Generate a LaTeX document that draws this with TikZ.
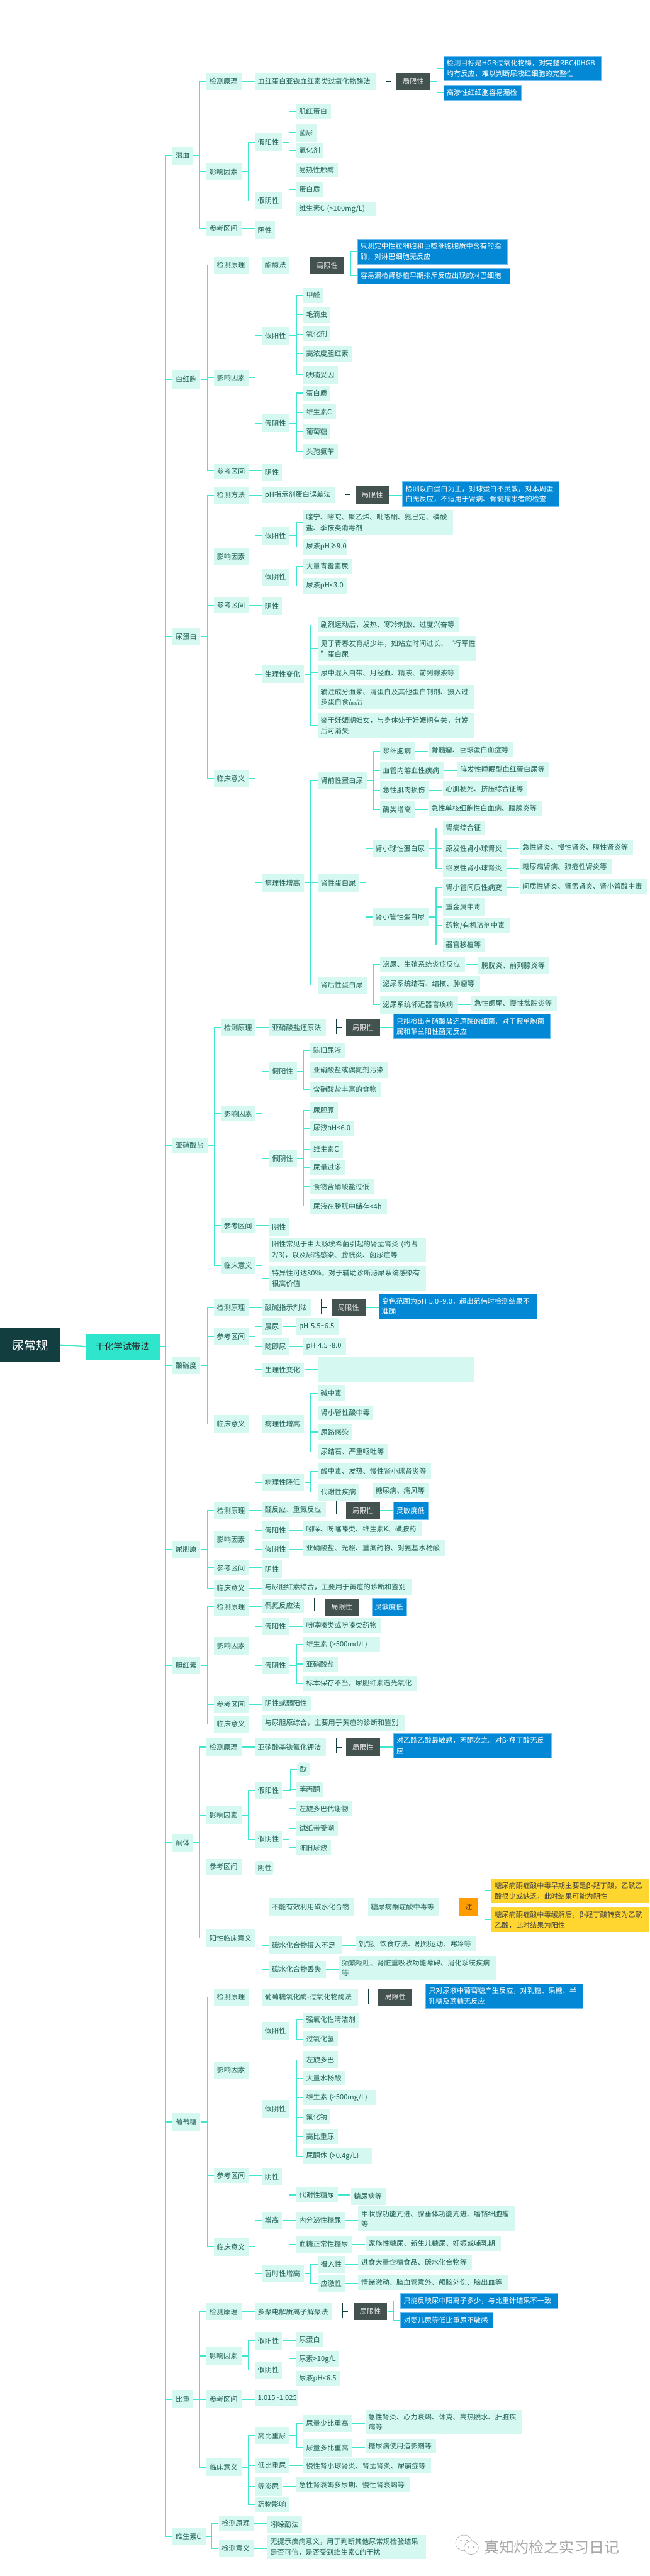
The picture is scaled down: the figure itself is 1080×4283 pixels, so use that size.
\documentclass[tikz,border=0pt]{standalone}
\usepackage{fontspec}
\setmainfont{Noto Sans CJK SC}
\definecolor{boxfill}{HTML}{D5F8F1}
\definecolor{linkcol}{HTML}{40E6CF}
\definecolor{boxtext}{HTML}{1F5F55}
\definecolor{bluefill}{HTML}{0288D4}
\definecolor{blueline}{HTML}{6FC0F0}
\definecolor{darkfill}{HTML}{44524F}
\definecolor{rootfill}{HTML}{123E40}
\definecolor{mainfill}{HTML}{2FE5CC}
\definecolor{orangefill}{HTML}{FF9D00}
\definecolor{yellowfill}{HTML}{FFD530}
\definecolor{markcol}{HTML}{A9A9A9}
\def\offx{240}\def\offy{0}\def\xf{0.53571}
\tikzset{
 basebox/.style={inner xsep=5pt,inner ysep=0pt,align=left,font=\fontsize{11.7}{17.3}\selectfont},
 nbox/.style={basebox,fill=boxfill,text=boxtext},
 bluebox/.style={basebox,fill=bluefill,draw=blueline,line width=.5pt,text=white},
 darkbox/.style={basebox,fill=darkfill,text=white!90!black,align=center},
 orangebox/.style={basebox,fill=orangefill,text=black!80,align=center},
 yellowbox/.style={basebox,fill=yellowfill,text=black!75},
 roundbox/.style={nbox,rounded corners=5pt},
 link/.style={draw=linkcol,line width=1.3pt},
 brk/.style={draw=rootfill,line width=1.1pt},
}
\newcommand\nd[7][nbox]{%
 \pgfmathsetmacro\nxa{\offx+#3*\xf}\pgfmathsetmacro\nya{\offy+#4/3}%
 \pgfmathsetmacro\nxb{\offx+#5*\xf}\pgfmathsetmacro\nyb{\offy+#6/3}%
 \pgfmathsetmacro\nw{\nxb-\nxa}\pgfmathsetmacro\nh{\nyb-\nya}\pgfmathsetmacro\nt{\nw-10}%
 \node[#1,anchor=north west,minimum width=\nw pt,minimum height=\nh pt,text width=\nt pt] (#2) at (\nxa pt,-\nya pt) {#7};}
\newcommand\Ed[2]{\foreach \kid in {#2}{\draw[link] (#1.east) -| ([xshift=-11pt]\kid.west) -- (\kid.west);}}
\newcommand\Sl[2]{\draw[link] (#1.east) -- (#1.east -| #2.west);}
\newcommand\Br[2]{\draw[brk] ([xshift=17pt]#1.north east) -- ([xshift=17pt,yshift=4pt]#1.south east);
 \draw[brk] ([xshift=17pt]#1.east) -- ([xshift=26pt]#1.east);}
\begin{document}
\begin{tikzpicture}[x=1pt,y=1pt]
\useasboundingbox (0,0) rectangle (1080,-4283);
\fill[white] (0,0) rectangle (1080,-4283);
% ---- root and main
\def\offx{0}\def\offy{2100}
\nd[basebox,fill=rootfill,text=white,align=center,font=\fontsize{20}{24}\selectfont]{root}{0}{323}{187}{494}{尿常规}
\nd[basebox,fill=mainfill,text=black!85,align=center,font=\fontsize{15}{18}\selectfont]{main}{265}{352}{495}{480}{干化学试带法}
% ---- 潜血
\def\offx{240}\def\offy{0}
\nd{qx}{87}{733}{150}{820}{潜血}
\nd{qxa}{192}{363}{301}{449}{检测原理}
\nd{qxaa}{342}{363}{717}{449}{血红蛋白亚铁血红素类过氧化物酶法}
\nd[darkbox]{qxab}{781}{363}{887}{449}{局限性}
\nd[bluebox]{qxac}{928}{280}{1416}{402}{检测目标是HGB过氧化物酶，对完整RBC和HGB\\均有反应，难以判断尿液红细胞的完整性}
\nd[bluebox]{qxad}{928}{423}{1169}{499}{高渗性红细胞容易漏检}
\nd{qxb}{192}{813}{301}{898}{影响因素}
\nd{qxba}{342}{665}{427}{753}{假阳性}
\nd{qxbaa}{470}{519}{578}{594}{肌红蛋白}
\nd{qxbab}{470}{618}{533}{704}{菌尿}
\nd{qxbac}{470}{712}{554}{789}{氧化剂}
\nd{qxbad}{470}{811}{600}{885}{易热性触酶}
\nd{qxbb}{342}{958}{427}{1044}{假阴性}
\nd{qxbba}{470}{907}{554}{983}{蛋白质}
\nd{qxbbb}{470}{1005}{717}{1080}{维生素C (>100mg/L)}
\nd{qxc}{192}{1101}{301}{1178}{参考区间}
\nd{qxca}{342}{1104}{405}{1190}{阴性}
% ---- 白细胞
\def\offy{390}
\nd{wb}{87}{678}{173}{767}{白细胞}
\nd{wba}{215}{108}{323}{196}{检测原理}
\nd{wbaa}{364}{108}{450}{196}{酯酶法}
\nd[darkbox]{wbab}{514}{108}{619}{197}{局限性}
\nd[bluebox]{wbac}{660}{22}{1126}{146}{只测定中性粒细胞和巨噬细胞胞质中含有的脂\\酶，对淋巴细胞无反应}
\nd[bluebox]{wbad}{660}{166}{1134}{244}{容易漏检肾移植早期排斥反应出现的淋巴细胞}
\nd{wbb}{215}{676}{323}{752}{影响因素}
\nd{wbba}{364}{460}{450}{548}{假阳性}
\nd{wbbaa}{492}{265}{554}{339}{甲醛}
\nd{wbbab}{492}{361}{577}{438}{毛滴虫}
\nd{wbbac}{492}{459}{577}{534}{氧化剂}
\nd{wbbad}{492}{556}{643}{633}{高浓度胆红素}
\nd{wbbae}{492}{655}{600}{743}{呋喃妥因}
\nd{wbbb}{364}{898}{450}{984}{假阴性}
\nd{wbbba}{492}{753}{577}{827}{蛋白质}
\nd{wbbbb}{492}{847}{594}{923}{维生素C}
\nd{wbbbc}{492}{945}{577}{1020}{葡萄糖}
\nd{wbbbd}{492}{1044}{600}{1118}{头孢氨苄}
\nd{wbc}{215}{1140}{323}{1217}{参考区间}
\nd{wbca}{364}{1142}{427}{1228}{阴性}
% ---- 尿蛋白
\def\offy{780}
\nd{db}{87}{793}{173}{879}{尿蛋白}
\nd{dba}{215}{86}{323}{174}{检测方法}
\nd{dbaa}{364}{86}{590}{170}{pH指示剂蛋白误差法}
\nd[darkbox]{dbab}{654}{85}{759}{175}{局限性}
\nd[bluebox]{dbac}{800}{61}{1286}{185}{检测以白蛋白为主，对球蛋白不灵敏，对本周蛋\\白无反应，不适用于肾病、骨髓瘤患者的检查}
\nd{dbb}{215}{393}{323}{479}{影响因素}
\nd{dbba}{364}{289}{450}{375}{假阳性}
\nd{dbbaa}{492}{205}{957}{326}{喹宁、嘧啶、聚乙烯、吡咯酮、氨己定、磷酸\\盐、季铵类消毒剂}
\nd{dbbab}{492}{348}{628}{425}{尿液pH≥9.0}
\nd{dbbb}{364}{495}{450}{581}{假阴性}
\nd{dbbba}{492}{447}{643}{521}{大量青霉素尿}
\nd{dbbbb}{492}{543}{630}{620}{尿液pH<3.0}
\nd{dbc}{215}{640}{323}{716}{参考区间}
\nd{dbca}{364}{640}{427}{727}{阴性}
\nd{dbda}{364}{979}{495}{1065}{生理性变化}
\nd{dbdaa}{537}{738}{977}{812}{剧烈运动后，发热、寒冷刺激、过度兴奋等}
\nd{dbdab}{537}{835}{1030}{956}{见于青春发育期少年，如站立时间过长、“行军性\\”蛋白尿}
\nd{dbdac}{537}{977}{977}{1054}{尿中混入白带、月经血、精液、前列腺液等}
\nd{dbdad}{537}{1075}{1023}{1197}{输注成分血浆、清蛋白及其他蛋白制剂、摄入过\\多蛋白食品后}
\def\offy{1170}
\nd{dbd}{215}{328}{323}{416}{临床意义}
\nd{dbdae}{537}{48}{1023}{170}{鉴于妊娠期妇女，与身体处于妊娠期有关，分娩\\后可消失}
\nd{dbdb}{364}{850}{495}{936}{病理性增高}
\nd{pa}{537}{340}{690}{425}{肾前性蛋白尿}
\nd{paa}{730}{192}{838}{280}{浆细胞病}
\nd{paax}{880}{192}{1143}{267}{骨髓瘤、巨球蛋白血症等}
\nd{pab}{730}{290}{928}{376}{血管内溶血性疾病}
\nd{pabx}{970}{290}{1256}{365}{阵发性睡眠型血红蛋白尿等}
\nd{pac}{730}{387}{883}{474}{急性肌肉损伤}
\nd{pacx}{925}{387}{1188}{461}{心肌梗死、挤压综合征等}
\nd{pad}{730}{485}{838}{571}{酶类增高}
\nd{padx}{880}{483}{1232}{560}{急性单核细胞性白血病、胰腺炎等}
\nd{pb}{537}{850}{667}{936}{肾性蛋白尿}
\nd{pba}{707}{679}{883}{765}{肾小球性蛋白尿}
\nd{pbaa}{925}{582}{1056}{656}{肾病综合征}
\nd{pbab}{925}{679}{1122}{765}{原发性肾小球肾炎}
\nd{pbabx}{1163}{678}{1516}{754}{急性肾炎、慢性肾炎、膜性肾炎等}
\nd{pbac}{925}{776}{1122}{863}{继发性肾小球肾炎}
\nd{pbacx}{1163}{775}{1449}{851}{糖尿病肾病、狼疮性肾炎等}
\nd{pbb}{707}{1020}{883}{1106}{肾小管性蛋白尿}
\nd{pbba}{925}{874}{1122}{960}{肾小管间质性病变}
\nd{pbbax}{1163}{872}{1561}{948}{间质性肾炎、肾盂肾炎、肾小管酸中毒}
\nd{pbbb}{925}{970}{1056}{1056}{重金属中毒}
\nd{pbbc}{925}{1067}{1133}{1143}{药物/有机溶剂中毒}
\nd{pbbd}{925}{1165}{1056}{1240}{器官移植等}
\nd{pc}{537}{1360}{690}{1445}{肾后性蛋白尿}
\nd{pca}{730}{1261}{995}{1337}{泌尿、生殖系统炎症反应}
\nd{pcax}{1036}{1261}{1256}{1350}{膀胱炎、前列腺炎等}
\nd{pcb}{730}{1357}{1040}{1435}{泌尿系统结石、结核、肿瘤等}
\def\offy{1660}
\nd{pcc}{730}{-15}{973}{75}{泌尿系统邻近器官疾病}
\nd{pccx}{1014}{-15}{1279}{62}{急性阑尾、慢性盆腔炎等}
% ---- 亚硝酸盐
\nd{ni}{87}{693}{195}{771}{亚硝酸盐}
\nd{nia}{237}{102}{345}{188}{检测原理}
\nd{niaa}{386}{102}{562}{188}{亚硝酸盐还原法}
\nd[darkbox]{niab}{625}{102}{730}{188}{局限性}
\nd[bluebox]{niac}{772}{78}{1258}{200}{只能检出有硝酸盐还原酶的细菌，对于假单胞菌\\属和革兰阳性菌无反应}
\nd{nib}{237}{537}{345}{612}{影响因素}
\nd{niba}{386}{319}{472}{406}{假阳性}
\nd{nibaa}{514}{220}{622}{296}{陈旧尿液}
\nd{nibab}{514}{318}{754}{395}{亚硝酸盐或偶氮剂污染}
\nd{nibac}{514}{415}{734}{491}{含硝酸盐丰富的食物}
\nd{nibb}{386}{756}{472}{842}{假阴性}
\nd{nibba}{514}{514}{600}{600}{尿胆原}
\nd{nibbb}{514}{610}{651}{686}{尿液pH<6.0}
\nd{nibbc}{514}{709}{615}{795}{维生素C}
\nd{nibbd}{514}{803}{622}{880}{尿量过多}
\nd{nibbe}{514}{901}{711}{977}{食物含硝酸盐过低}
\nd{nibbf}{514}{997}{752}{1074}{尿液在膀胱中储存<4h}
\nd{nic}{237}{1095}{345}{1171}{参考区间}
\nd{nica}{386}{1096}{450}{1185}{阴性}
\nd{nid}{237}{1288}{345}{1376}{临床意义}
\nd{nida}{386}{1192}{873}{1314}{阳性常见于由大肠埃希菌引起的肾盂肾炎 (约占\\2/3)，以及尿路感染、膀胱炎、菌尿症等}
% ---- 酸碱度
\def\offx{0}\def\offy{2100}
\nd{nidb}{834}{15}{1322}{138}{特异性可达80\%，对于辅助诊断泌尿系统感染有\\很高价值}
\nd{ph}{535}{468}{621}{555}{酸碱度}
\nd{pha}{663}{178}{771}{264}{检测原理}
\nd{phaa}{812}{178}{964}{264}{酸碱指示剂法}
\nd[darkbox]{phab}{1029}{178}{1133}{266}{局限性}
\nd[bluebox]{phac}{1175}{153}{1664}{277}{变色范围为pH 5.0\textasciitilde 9.0，超出范伟时检测结果不\\准确}
\nd{phb}{663}{324}{771}{410}{参考区间}
\nd{phba}{812}{275}{875}{360}{晨尿}
\nd{phbax}{918}{275}{1052}{360}{pH 5.5\textasciitilde 6.5}
\nd{phbb}{812}{372}{897}{459}{随即尿}
\nd{phbbx}{940}{371}{1073}{456}{pH 4.5\textasciitilde 8.0}
\nd{phc}{663}{759}{771}{847}{临床意义}
\nd{phca}{812}{496}{943}{567}{生理性变化}
\nd{phcax}{985}{469}{1471}{591}{}
\nd{phcb}{812}{759}{943}{845}{病理性增高}
\nd{phcba}{985}{610}{1069}{687}{碱中毒}
\nd{phcbb}{985}{709}{1158}{784}{肾小管性酸中毒}
\nd{phcbc}{985}{805}{1091}{880}{尿路感染}
\nd{phcbd}{985}{902}{1202}{978}{尿结石、严重呕吐等}
\nd{phcc}{812}{1049}{943}{1137}{病理性降低}
\nd{phcca}{985}{1000}{1337}{1075}{酸中毒、发热、慢性肾小球肾炎等}
\nd{phccb}{985}{1098}{1114}{1184}{代谢性疾病}
\nd{phccbx}{1155}{1096}{1331}{1172}{糖尿病、痛风等}
% ---- 尿胆原, 胆红素
\def\offx{240}\def\offy{2490}
\nd{ub}{87}{215}{173}{301}{尿胆原}
\nd{uba}{215}{21}{323}{107}{检测原理}
\nd{ubaa}{364}{19}{562}{96}{醛反应、重氮反应}
\nd[darkbox]{ubab}{625}{20}{730}{109}{局限性}
\nd[bluebox]{ubac}{772}{20}{880}{109}{灵敏度低}
\nd{ubb}{215}{166}{323}{254}{影响因素}
\nd{ubba}{364}{119}{450}{205}{假阳性}
\nd{ubbax}{492}{119}{860}{192}{吲哚、吩噻嗪类、维生素K、磺胺药}
\nd{ubbb}{364}{215}{450}{301}{假阴性}
\nd{ubbbx}{492}{213}{934}{290}{亚硝酸盐、光照、重氮药物、对氨基水杨酸}
\nd{ubc}{215}{311}{323}{387}{参考区间}
\nd{ubca}{364}{313}{427}{399}{阴性}
\nd{ubd}{215}{409}{323}{495}{临床意义}
\nd{ubda}{364}{407}{829}{485}{与尿胆红素综合，主要用于黄疸的诊断和鉴别}
\nd{bi}{87}{795}{173}{881}{胆红素}
\nd{bia}{215}{502}{323}{587}{检测原理}
\nd{biaa}{364}{502}{495}{577}{偶氮反应法}
\nd[darkbox]{biab}{559}{502}{665}{588}{局限性}
\nd[bluebox]{biac}{705}{502}{813}{588}{灵敏度低}
\nd{bib}{215}{696}{323}{783}{影响因素}
\nd{biba}{364}{600}{450}{686}{假阳性}
\nd{bibax}{492}{598}{734}{672}{吩噻嗪类或吩嗪类药物}
\nd{bibb}{364}{795}{450}{881}{假阴性}
\nd{bibba}{492}{694}{730}{771}{维生素 (>500md/L)}
\nd{bibbb}{492}{792}{600}{867}{亚硝酸盐}
\nd{bibbc}{492}{888}{844}{965}{标本保存不当，尿胆红素遇光氧化}
\nd{bic}{215}{988}{323}{1074}{参考区间}
\nd{bica}{364}{988}{517}{1062}{阴性或弱阳性}
\nd{bid}{215}{1086}{323}{1172}{临床意义}
\nd{bida}{364}{1083}{806}{1161}{与尿胆原综合，主要用于黄疸的诊断和鉴别}
% ---- 酮体
\def\offy{2880}
\nd{ke}{87}{507}{150}{594}{酮体}
\nd{kea}{192}{30}{301}{118}{检测原理}
\nd{keaa}{342}{30}{562}{118}{亚硝酸基铁氰化钾法}
\nd[darkbox]{keab}{625}{29}{730}{119}{局限性}
\nd[bluebox]{keac}{772}{4}{1262}{128}{对乙酰乙酸最敏感，丙酮次之。对β-羟丁酸无反\\应}
\nd{keb}{192}{370}{301}{456}{影响因素}
\nd{keba}{342}{247}{427}{335}{假阳性}
\nd[roundbox]{kebaa}{473}{150}{513}{218}{酞}
\nd{kebab}{470}{247}{554}{322}{苯丙酮}
\nd{kebac}{470}{343}{643}{418}{左旋多巴代谢物}
\nd{kebb}{342}{490}{427}{576}{假阴性}
\nd{kebba}{470}{442}{600}{516}{试纸带受潮}
\nd{kebbb}{470}{538}{578}{612}{陈旧尿液}
\nd{kec}{192}{633}{301}{709}{参考区间}
\nd[roundbox]{keca}{342}{641}{400}{711}{阴性}
\nd{ked}{192}{983}{345}{1071}{阳性临床意义}
\nd{keda}{386}{828}{650}{914}{不能有效利用碳水化合物}
\nd{kedax}{693}{828}{912}{914}{糖尿病酮症酸中毒等}
\nd[orangebox]{kedan}{975}{828}{1036}{914}{注}
\nd[yellowbox]{kedaa}{1077}{732}{1566}{851}{糖尿病酮症酸中毒早期主要是β-羟丁酸，乙酰乙\\酸很少或缺乏，此时结果可能为阴性}
\nd[yellowbox]{kedab}{1077}{875}{1566}{997}{糖尿病酮症酸中毒缓解后，β-羟丁酸转变为乙酰\\乙酸，此时结果为阳性}
\nd{kedb}{386}{1019}{614}{1106}{碳水化合物摄入不足}
\nd{kedbx}{655}{1019}{1030}{1094}{饥饿、饮食疗法、剧烈运动、寒冷等}
\nd{kedc}{386}{1139}{562}{1226}{碳水化合物丢失}
\nd{kedcx}{603}{1115}{1090}{1236}{频繁呕吐、肾脏重吸收功能障碍、消化系统疾病\\等}
% ---- 葡萄糖
\def\offy{3270}
\nd{gl}{87}{730}{173}{816}{葡萄糖}
\nd{gla}{215}{108}{323}{194}{检测原理}
\nd{glaa}{364}{108}{662}{194}{葡萄糖氧化酶-过氧化物酶法}
\nd[darkbox]{glab}{725}{108}{831}{194}{局限性}
\nd[bluebox]{glac}{872}{83}{1359}{206}{只对尿液中葡萄糖产生反应，对乳糖、果糖、半\\乳糖及蔗糖无反应}
\nd{glb}{215}{471}{323}{557}{影响因素}
\nd{glba}{364}{276}{450}{362}{假阳性}
\nd{glbaa}{492}{226}{666}{302}{强氧化性清洁剂}
\nd{glbab}{492}{323}{600}{398}{过氧化氢}
\nd{glbb}{364}{665}{450}{751}{假阴性}
\nd{glbba}{492}{422}{600}{507}{左旋多巴}
\nd{glbbb}{492}{518}{622}{593}{大量水杨酸}
\nd{glbbc}{492}{614}{716}{689}{维生素 (>500mg/L)}
\nd{glbbd}{492}{712}{577}{787}{氟化钠}
\nd{glbbe}{492}{808}{600}{884}{高比重尿}
\nd{glbbf}{492}{905}{705}{982}{尿酮体 (>0.4g/L)}
\nd{glc}{215}{1003}{323}{1079}{参考区间}
\nd{glca}{364}{1006}{427}{1091}{阴性}
\nd{glda}{470}{1099}{600}{1176}{代谢性糖尿}
\nd{gldax}{640}{1102}{749}{1187}{糖尿病等}
\def\offy{3660}
\nd{gld}{215}{184}{323}{270}{临床意义}
\nd{gle}{364}{51}{427}{138}{增高}
\nd{gldb}{470}{51}{622}{138}{内分泌性糖尿}
\nd{gldbx}{663}{25}{1150}{148}{甲状腺功能亢进、腺垂体功能亢进、嗜铬细胞瘤\\等}
\nd{gldc}{470}{171}{644}{257}{血糖正常性糖尿}
\nd{gldcx}{685}{171}{1105}{245}{家族性糖尿、新生儿糖尿、妊娠或哺乳期}
\nd{glf}{364}{317}{495}{404}{暂时性增高}
\nd{glfa}{537}{270}{622}{356}{摄入性}
\nd{glfax}{663}{268}{1016}{342}{进食大量含糖食品、碳水化合物等}
\nd{glfb}{537}{366}{622}{452}{应激性}
\nd{glfbx}{663}{366}{1127}{441}{情绪激动、脑血管意外、颅脑外伤、脑出血等}
% ---- 比重
\nd{sga}{192}{507}{301}{593}{检测原理}
\nd{sgaa}{342}{507}{583}{593}{多聚电解质离子解聚法}
\nd[darkbox]{sgab}{648}{506}{753}{593}{局限性}
\nd[bluebox]{sgac}{794}{458}{1281}{532}{只能反映尿中阳离子多少，与比重计结果不一致}
\nd[bluebox]{sgad}{794}{554}{1081}{631}{对婴儿尿等低比重尿不敏感}
\nd{sgb}{192}{727}{301}{813}{影响因素}
\nd{sgba}{342}{652}{427}{738}{假阳性}
\nd{sgbax}{470}{650}{554}{727}{尿蛋白}
\nd{sgbb}{342}{798}{427}{885}{假阴性}
\nd{sgbba}{470}{748}{603}{823}{尿素>10g/L}
\nd{sgbbb}{470}{847}{607}{921}{尿液pH<6.5}
\def\offy{3970}
\nd{sg}{87}{13}{150}{101}{比重}
\nd{sgc}{192}{13}{301}{101}{参考区间}
\nd{sgca}{342}{13}{476}{88}{1.015\textasciitilde 1.025}
\nd{sgd}{192}{352}{301}{440}{临床意义}
\nd{sgda}{342}{195}{450}{281}{高比重尿}
\nd{sgdaa}{492}{134}{644}{220}{尿量少比重高}
\nd{sgdaax}{685}{109}{1172}{231}{急性肾炎、心力衰竭、休克、高热脱水、肝脏疾\\病等}
\nd{sgdab}{492}{255}{644}{341}{尿量多比重高}
\nd{sgdabx}{685}{253}{905}{327}{糖尿病使用造影剂等}
\nd{sgdb}{342}{351}{450}{426}{低比重尿}
\nd{sgdbx}{492}{351}{889}{426}{慢性肾小球肾炎、肾盂肾炎、尿崩症等}
\nd{sgdc}{342}{447}{427}{536}{等渗尿}
\nd{sgdcx}{470}{447}{823}{522}{急性肾衰竭多尿期、慢性肾衰竭等}
\nd{sgdd}{342}{544}{450}{620}{药物影响}
% ---- 维生素C
\nd{vc}{87}{697}{189}{786}{维生素C}
\nd{vca}{230}{637}{338}{713}{检测原理}
\nd{vcax}{381}{637}{489}{725}{吲哚酚法}
\nd{vcb}{230}{758}{338}{845}{检测意义}
\nd{vcbx}{381}{733}{874}{855}{无提示疾病意义，用于判断其他尿常规检验结果\\是否可信，是否受到维生素C的干扰}
% ---- connectors
\draw[link,line width=2.4pt] (root.east) -- (main.west);
\Ed{main}{qx,wb,db,ni,ph,ub,bi,ke,gl,sg,vc}
\Ed{qx}{qxa,qxb,qxc}\Sl{qxa}{qxaa}\Br{qxaa}{qxab}\Ed{qxab}{qxac,qxad}
\Ed{qxb}{qxba,qxbb}\Ed{qxba}{qxbaa,qxbab,qxbac,qxbad}\Ed{qxbb}{qxbba,qxbbb}\Sl{qxc}{qxca}
\Ed{wb}{wba,wbb,wbc}\Sl{wba}{wbaa}\Br{wbaa}{wbab}\Ed{wbab}{wbac,wbad}
\Ed{wbb}{wbba,wbbb}\Ed{wbba}{wbbaa,wbbab,wbbac,wbbad,wbbae}\Ed{wbbb}{wbbba,wbbbb,wbbbc,wbbbd}\Sl{wbc}{wbca}
\Ed{db}{dba,dbb,dbc,dbd}\Sl{dba}{dbaa}\Br{dbaa}{dbab}\Sl{dbab}{dbac}
\Ed{dbb}{dbba,dbbb}\Ed{dbba}{dbbaa,dbbab}\Ed{dbbb}{dbbba,dbbbb}\Sl{dbc}{dbca}
\Ed{dbd}{dbda,dbdb}\Ed{dbda}{dbdaa,dbdab,dbdac,dbdad,dbdae}\Ed{dbdb}{pa,pb,pc}
\Ed{pa}{paa,pab,pac,pad}\Sl{paa}{paax}\Sl{pab}{pabx}\Sl{pac}{pacx}\Sl{pad}{padx}
\Ed{pb}{pba,pbb}\Ed{pba}{pbaa,pbab,pbac}\Sl{pbab}{pbabx}\Sl{pbac}{pbacx}
\Ed{pbb}{pbba,pbbb,pbbc,pbbd}\Sl{pbba}{pbbax}
\Ed{pc}{pca,pcb,pcc}\Sl{pca}{pcax}\Sl{pcc}{pccx}
\Ed{ni}{nia,nib,nic,nid}\Sl{nia}{niaa}\Br{niaa}{niab}\Sl{niab}{niac}
\Ed{nib}{niba,nibb}\Ed{niba}{nibaa,nibab,nibac}\Ed{nibb}{nibba,nibbb,nibbc,nibbd,nibbe,nibbf}\Sl{nic}{nica}\Ed{nid}{nida,nidb}
\Ed{ph}{pha,phb,phc}\Sl{pha}{phaa}\Br{phaa}{phab}\Sl{phab}{phac}
\Ed{phb}{phba,phbb}\Sl{phba}{phbax}\Sl{phbb}{phbbx}
\Ed{phc}{phca,phcb,phcc}\Sl{phca}{phcax}\Ed{phcb}{phcba,phcbb,phcbc,phcbd}\Ed{phcc}{phcca,phccb}\Sl{phccb}{phccbx}
\Ed{ub}{uba,ubb,ubc,ubd}\Sl{uba}{ubaa}\Br{ubaa}{ubab}\Sl{ubab}{ubac}
\Ed{ubb}{ubba,ubbb}\Sl{ubba}{ubbax}\Sl{ubbb}{ubbbx}\Sl{ubc}{ubca}\Sl{ubd}{ubda}
\Ed{bi}{bia,bib,bic,bid}\Sl{bia}{biaa}\Br{biaa}{biab}\Sl{biab}{biac}
\Ed{bib}{biba,bibb}\Sl{biba}{bibax}\Ed{bibb}{bibba,bibbb,bibbc}\Sl{bic}{bica}\Sl{bid}{bida}
\Ed{ke}{kea,keb,kec,ked}\Sl{kea}{keaa}\Br{keaa}{keab}\Sl{keab}{keac}
\Ed{keb}{keba,kebb}\Ed{keba}{kebaa,kebab,kebac}\Ed{kebb}{kebba,kebbb}\Sl{kec}{keca}
\Ed{ked}{keda,kedb,kedc}\Sl{keda}{kedax}\Br{kedax}{kedan}\Ed{kedan}{kedaa,kedab}\Sl{kedb}{kedbx}\Sl{kedc}{kedcx}
\Ed{gl}{gla,glb,glc,gld}\Sl{gla}{glaa}\Br{glaa}{glab}\Sl{glab}{glac}
\Ed{glb}{glba,glbb}\Ed{glba}{glbaa,glbab}\Ed{glbb}{glbba,glbbb,glbbc,glbbd,glbbe,glbbf}\Sl{glc}{glca}
\Ed{gld}{gle,glf}\Ed{gle}{glda,gldb,gldc}\Sl{glda}{gldax}\Sl{gldb}{gldbx}\Sl{gldc}{gldcx}
\Ed{glf}{glfa,glfb}\Sl{glfa}{glfax}\Sl{glfb}{glfbx}
\Ed{sg}{sga,sgb,sgc,sgd}\Sl{sga}{sgaa}\Br{sgaa}{sgab}\Ed{sgab}{sgac,sgad}
\Ed{sgb}{sgba,sgbb}\Sl{sgba}{sgbax}\Ed{sgbb}{sgbba,sgbbb}\Sl{sgc}{sgca}
\Ed{sgd}{sgda,sgdb,sgdc,sgdd}\Ed{sgda}{sgdaa,sgdab}\Sl{sgdaa}{sgdaax}\Sl{sgdab}{sgdabx}\Sl{sgdb}{sgdbx}\Sl{sgdc}{sgdcx}
\Ed{vc}{vca,vcb}\Sl{vca}{vcax}\Sl{vcb}{vcbx}
% ---- watermark
\node[anchor=west,text=markcol,inner sep=0pt,font=\fontsize{25}{28}\selectfont] (wm) at (804,-4235) {真知灼检之实习日记};
\draw[markcol,line width=.7pt,fill=white] (771,-4228) ellipse [x radius=14,y radius=13];
\draw[markcol,line width=.7pt,fill=white] (783,-4236) ellipse [x radius=12,y radius=11];
\fill[markcol] (766,-4224) circle (1.3) (776,-4224) circle (1.3) (779,-4235) circle (1.2) (787,-4235) circle (1.2);
\end{tikzpicture}
\end{document}
